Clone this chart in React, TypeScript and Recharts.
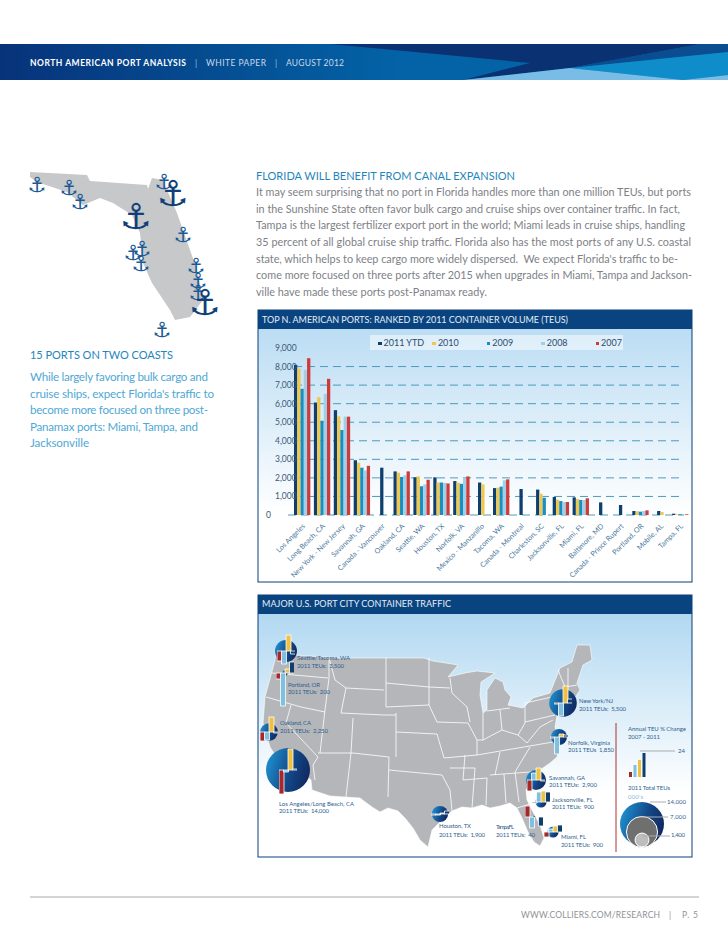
import { Bar, BarChart, CartesianGrid, Cell, Legend, Scatter, ScatterChart, XAxis, YAxis, ZAxis } from "recharts"

const FONT = "Lato, 'Open Sans', sans-serif"

// ─── Top ports bar chart data ────────────────────────────────────────────────

const PORTS = [
  "Los Angeles", "Long Beach, CA", "New York - New Jersey", "Savannah, GA", "Canada - Vancouver",
  "Oakland, CA", "Seattle, WA", "Houston, TX", "Norfolk, VA", "Mexico - Manzanillo",
  "Tacoma, WA", "Canada - Montreal", "Charleston, SC", "Jacksonville, FL", "Miami, FL",
  "Baltimore, MD", "Canada - Prince Rupert", "Portland, OR", "Mobile, AL", "Tampa, FL",
]
const TEU_2011 = [8090, 6060, 5650, 2950, 2550, 2350, 2030, 2030, 1830, 1750, 1450, 1400, 1370, 970, 950, 680, 540, 215, 215, 70]
const TEU_2010 = [7880, 6350, 5320, 2820, null, 2280, 2080, 1750, 1750, 1650, 1470, null, 1150, 830, 860, null, null, 200, 160, 40]
const TEU_2009 = [6800, 5080, 4580, 2550, null, 2050, 1550, 1750, 1680, null, 1530, null, 930, 750, 810, null, null, 180, null, 40]
const TEU_2008 = [7820, 6530, 5300, 2400, null, 2140, 1650, 1730, 2000, null, 1870, null, null, 700, 810, null, null, 215, null, 20]
const TEU_2007 = [8450, 7340, 5300, 2650, null, 2350, 1900, 1700, 2080, null, 1920, null, null, 700, 900, null, null, 250, null, 40]
const Y_TICKS = [0, 1000, 2000, 3000, 4000, 5000, 6000, 7000, 8000, 9000]

const rows = PORTS.map((port, i) => ({
  port,
  y2011: TEU_2011[i],
  y2010: TEU_2010[i],
  y2009: TEU_2009[i],
  y2008: TEU_2008[i],
  y2007: TEU_2007[i],
}))

const SERIES = [
  { key: "y2011", name: "2011 YTD", color: "#0f3f6e" },
  { key: "y2010", name: "2010", color: "#f0c850" },
  { key: "y2009", name: "2009", color: "#1a8fbf" },
  { key: "y2008", name: "2008", color: "#9fd0e8" },
  { key: "y2007", name: "2007", color: "#cf3a3a" },
]

// ─── Port map data ───────────────────────────────────────────────────────────

const CITY_NAMES = ["Seattle", "Portland", "Oakland", "Los Angeles", "Houston", "New York", "Norfolk", "Savannah", "Jacksonville", "Tampa", "Miami"]
const CITY_TEUS = [3500, 200, 2250, 14000, 1900, 5500, 1850, 2900, 900, 40, 900]
const CITY_MAP_X = [28, 27, 11, 30, 182, 305, 301, 278, 283, 276, 295]
const CITY_MAP_Y = [37, 59, 118, 156, 200, 89, 123, 166, 188, 203, 218]
const CHANGE_YEARS = ["2008", "2009", "2010", "2011"]
const CITY_CHANGES = [
  [-10, -13, 16, -3],
  [-6, -33, 4, 11],
  [-9, -8, 15, -1],
  [-24, -2, 21, 1],
  [-1, -1, 1, 3],
  [-1, -13, 17, 4],
  [-1, -17, 3, 2],
  [-11, 7, 12, -1],
  [-1, 10, 11, 10],
  [11, -11, 0, -9],
  [-5, 3, 6, 7],
]
const CHANGE_COLORS = ["#a5282c", "#7fc0e0", "#f0c040", "#0f3f6e"]
const KEY_CHANGES = [5, 12, 17, 24]
const KEY_TOTALS = [14000, 7000, 1400]
const KEY_MAP_Y = [210, 218, 226]

const cities = CITY_NAMES.map((name, i) => ({ name, x: CITY_MAP_X[i], y: CITY_MAP_Y[i], teu: CITY_TEUS[i] }))
const keyBubbles = KEY_TOTALS.map((teu, i) => ({ x: 384, y: KEY_MAP_Y[i], teu }))

// ─── Page furniture ──────────────────────────────────────────────────────────

const BODY = [
  ["It may seem surprising that no port in Florida handles more than one million TEUs, but ports", 691],
  ["in the Sunshine State often favor bulk cargo and cruise ships over container traffic. In fact,", 680],
  ["Tampa is the largest fertilizer export port in the world; Miami leads in cruise ships, handling", 685],
  ["35 percent of all global cruise ship traffic. Florida also has the most ports of any U.S. coastal", 691],
  ["state, which helps to keep cargo more widely dispersed.  We expect Florida's traffic to be-", 678],
  ["come more focused on three ports after 2015 when upgrades in Miami, Tampa and Jackson-", 692],
  ["ville have made these ports post-Panamax ready.", 487],
] as const

const SIDE = [
  ["While largely favoring bulk cargo and", 208],
  ["cruise ships, expect Florida's traffic to", 214],
  ["become more focused on three post-", 208],
  ["Panamax ports: Miami, Tampa, and", 198],
  ["Jacksonville", 89],
] as const

const MAP_LABELS = [
  ["Seattle/Tacoma, WA", 297, 659.5, 350],
  ["2011 TEUs:  3,500", 297, 667.7, 344],
  ["Portland, OR", 288, 686.7, 320],
  ["2011 TEUs:  200", 288, 693.5, 330],
  ["Oakland, CA", 280, 725, 311],
  ["2011 TEUs:  2,250", 280, 732.5, 328],
  ["Los Angeles/Long Beach, CA", 279, 805.7, 354],
  ["2011 TEUs:  14,000", 279, 812.7, 329],
  ["Houston, TX", 439, 828, 471],
  ["2011 TEUs:  1,900", 439, 836.7, 485],
  ["New York/NJ", 579, 702.7, 613],
  ["2011 TEUs:  5,500", 579, 710.7, 626],
  ["Norfolk, Virginia", 568, 744.7, 610],
  ["2011 TEUs  1,850", 568, 751.5, 614],
  ["Savannah, GA", 549, 779.7, 585],
  ["2011 TEUs:  2,900", 549, 787, 597],
  ["Jacksonville, FL", 552, 801.7, 593],
  ["2011 TEUs:  900", 552, 808.5, 594],
  ["Tampa, FL", 496, 828.7, 514],
  ["2011 TEUs:  40", 496, 837, 535],
  ["Miami, FL", 561, 839, 586],
  ["2011 TEUs:  900", 561, 847, 603],
  ["Annual TEU % Change", 628, 730.7, 686],
  ["2007 - 2011", 628, 738.5, 660],
  ["24", 678, 752.7, 685],
  ["2011 Total TEUs", 628, 790, 670],
  ["14,000", 667, 803.7, 686],
  ["7,000", 670, 818.7, 686],
  ["1,400", 671, 837, 685],
] as const

const ANCHORS = [
  [37, 184, 21], [69, 187, 21], [80, 201, 21], [164, 181, 21], [173, 193, 36], [136, 216, 36], [183, 234, 21], [133, 252, 21],
  [142, 248, 21], [141, 263, 21], [196, 265, 21], [198, 280, 21], [198, 292, 21], [205, 302, 36], [162, 329, 21],
]

const US_OUTLINE = "M276 652 L295 655 L339 658 L424 658 L433 661 L446 663 L458 665 L448 677 L465 673 L477 671 L495 673 L481 682 L480 695 L483 713 L487 710 L487 690 L495 678 L503 682 L505 690 L511 697 L508 705 L523 708 L533 698 L550 693 L560 668 L572 662 L577 645 L590 645 L592 660 L583 665 L577 683 L580 690 L572 702 L557 715 L555 727 L560 743 L557 757 L550 763 L540 770 L532 780 L526 790 L527 800 L533 812 L540 825 L544 838 L540 846 L534 842 L528 832 L522 818 L517 808 L510 803 L500 806 L490 808 L482 805 L472 808 L462 807 L452 811 L442 820 L432 830 L428 847 L420 840 L413 828 L405 818 L398 811 L388 808 L380 812 L372 807 L360 798 L345 797 L330 796 L312 790 L311 780 L298 768 L280 763 L270 747 L263 723 L265 697 L271 675 L275 660 Z"

const STATE_LINES = [
  "M272 673 L328 678", "M266 697 L301 707 L325 712", "M329 658 L329 678 L325 710 L320 753", "M291 705 L286 723 L318 757 L313 765 L315 780",
  "M318 753 L353 753 L389 757", "M329 658 L335 680 L346 688 L384 690", "M346 688 L341 713 L384 715 L396 715", "M386 658 L386 707",
  "M386 683 L429 687", "M386 707 L429 705 L437 722", "M396 713 L396 757", "M396 732 L437 734 L444 758", "M353 718 L351 753 L346 797",
  "M389 757 L388 797", "M389 770 L442 775 L450 790 L452 811", "M429 658 L429 705", "M429 687 L450 688", "M437 722 L468 723",
  "M444 758 L477 755", "M450 768 L475 768 L472 808", "M468 723 L477 740 L483 740", "M450 678 L452 693 L467 707 L470 722",
  "M483 713 L483 740 L502 730 L518 735 L525 723 L525 703", "M487 711 L510 708", "M500 710 L502 730", "M477 740 L477 755",
  "M525 722 L555 715", "M525 703 L552 697", "M558 670 L565 687", "M568 668 L568 687", "M565 687 L577 685",
  "M518 735 L527 743 L540 727 L553 720", "M477 755 L553 742", "M490 775 L530 772 L540 770", "M465 755 L463 780 L487 778 L486 805",
  "M504 774 L506 803", "M515 772 L519 802", "M517 808 L530 804", "M500 752 L495 775", "M530 747 L515 772",
]

// ─── Bits ────────────────────────────────────────────────────────────────────

// the source chart centres each group on the bars it actually has
function CenteredBar(props: any) {
  const { x, y, width, height, fill, payload } = props
  if (height == null || height <= 0) return null
  const present = SERIES.filter((s) => payload[s.key] != null).length
  return <rect x={x + ((5 - present) / 2) * width} y={y} width={width} height={height} fill={fill} />
}

function GridLine(props: any) {
  if (props.y1 < 20) return <g />
  // the dashes stop short of the tick labels, only the baseline runs under them
  const x1 = props.y1 > 180 ? props.x1 : props.x1 + 6
  return <line x1={x1} x2={426} y1={props.y1} y2={props.y2} stroke="#4a9cbd" strokeWidth={1} strokeDasharray="8 5" />
}

function ChartLegend({ payload }: any) {
  return (
    <div style={{ position: "relative", width: 253, height: 15, background: "rgba(255,255,255,0.5)", fontFamily: FONT, fontSize: 9, color: "#2b4d6e" }}>
      {(payload ?? []).map((entry: any, i: number) => (
        <span key={entry.value} style={{ position: "absolute", left: 8 + i * 54.4, top: 1, whiteSpace: "nowrap", lineHeight: "13px" }}>
          <span style={{ display: "inline-block", width: 3.5, height: 3.5, background: entry.color, marginRight: 2, verticalAlign: 1 }} />
          {entry.value}
        </span>
      ))}
    </div>
  )
}

function TopPortsChart() {
  return (
    <div style={{ position: "absolute", left: 258, top: 330 }}>
      <BarChart width={434} height={252} data={rows} margin={{ top: 18, right: 2, bottom: 0, left: 0 }} barGap={0}>
        <CartesianGrid vertical={false} horizontal={GridLine as any} />
        <XAxis
          dataKey="port"
          interval={0}
          height={67}
          padding={{ left: 4, right: 0 }}
          axisLine={false}
          tickLine={false}
          angle={-45}
          textAnchor="end"
          tick={{ fontSize: 7.2, fill: "#4a789c", fontFamily: FONT }}
        />
        <YAxis
          width={30}
          domain={[0, 9000]}
          ticks={Y_TICKS}
          interval={0}
          axisLine={false}
          tickLine={false}
          tick={(p: any) => (
            <text x={p.payload.value === 0 ? 8 : 17} y={p.y + 3} fontSize={8.5} fill="#3a5a78" fontFamily={FONT}>
              {p.payload.value.toLocaleString("en-US")}
            </text>
          )}
        />
        <Legend
          layout="vertical"
          align="center"
          verticalAlign="middle"
          itemSorter={null}
          content={<ChartLegend />}
          wrapperStyle={{ left: 112, top: 5, width: 253, height: 15 }}
        />
        {SERIES.map((s) => (
          <Bar key={s.key} dataKey={s.key} name={s.name} fill={s.color} barSize={3.27} shape={<CenteredBar />} isAnimationActive={false} />
        ))}
      </BarChart>
    </div>
  )
}

function ChangeBars({ values, left, top, outlined = true }: { values: number[]; left: number; top: number; outlined?: boolean }) {
  const data = CHANGE_YEARS.map((year, i) => ({ year, change: values[i] }))
  return (
    <div style={{ position: "absolute", left: left - 9, top: top - 38 }}>
      <BarChart width={18} height={76} data={data} margin={{ top: 0, right: 0, bottom: 0, left: 0 }} barCategoryGap={outlined ? 0 : 1}>
        <XAxis dataKey="year" hide />
        <YAxis hide domain={[-38, 38]} />
        <Bar dataKey="change" stroke={outlined ? "#fff" : "none"} strokeWidth={outlined ? 0.8 : 0} isAnimationActive={false}>
          {data.map((_, i) => (
            <Cell key={i} fill={CHANGE_COLORS[i]} />
          ))}
        </Bar>
      </BarChart>
    </div>
  )
}

function PortBubbles() {
  return (
    <div style={{ position: "absolute", left: 258, top: 614 }}>
      <ScatterChart width={434} height={243} margin={{ top: 0, right: 0, bottom: 0, left: 0 }}>
        <defs>
          <linearGradient id="bubble" x1="0" y1="0.3" x2="1" y2="0.6">
            <stop offset="0" stopColor="#1f90cf" />
            <stop offset="0.55" stopColor="#134a8a" />
            <stop offset="1" stopColor="#10285f" />
          </linearGradient>
        </defs>
        <XAxis type="number" dataKey="x" domain={[0, 434]} hide />
        <YAxis type="number" dataKey="y" domain={[0, 243]} reversed hide width={0} />
        <ZAxis type="number" dataKey="teu" domain={[0, 14000]} range={[0, 1520]} />
        <Scatter data={cities} fill="url(#bubble)" isAnimationActive={false} />
        <Scatter data={keyBubbles} isAnimationActive={false}>
          {keyBubbles.map((_, i) => (
            <Cell key={i} fill={["url(#bubble)", "#6f6f70", "#bdbdbe"][i]} stroke={i ? "#fff" : "none"} />
          ))}
        </Scatter>
      </ScatterChart>
    </div>
  )
}

function Txt({ x, y, end, size, fill, weight, children }: any) {
  return (
    <text x={x} y={y} textLength={end - x} lengthAdjust="spacing" fontSize={size} fill={fill} fontWeight={weight} fontFamily={FONT} xmlSpace="preserve">
      {children}
    </text>
  )
}

function PageArt() {
  return (
    <svg width={728} height={943} style={{ position: "absolute", left: 0, top: 0 }}>
      <defs>
        <linearGradient id="bandLeft" x1="0" x2="1" y1="0" y2="0">
          <stop offset="0" stopColor="#07337a" />
          <stop offset="0.55" stopColor="#0363a6" />
          <stop offset="1" stopColor="#0363a6" />
        </linearGradient>
        <linearGradient id="panelOne" x1="0" x2="0" y1="0" y2="1">
          <stop offset="0" stopColor="#b4d9f2" />
          <stop offset="0.75" stopColor="#ffffff" />
        </linearGradient>
        <linearGradient id="panelTwo" x1="0" x2="0" y1="0" y2="1">
          <stop offset="0" stopColor="#a9d4f0" />
          <stop offset="0.75" stopColor="#ffffff" />
        </linearGradient>
      </defs>

      <rect x={0} y={44} width={728} height={36} fill="url(#bandLeft)" />
      <polygon points="330,44 700,44 570,68 463,80 530,63" fill="#0a3272" />
      <polygon points="700,44 728,44 728,52 570,68" fill="#0a4d90" />
      <polygon points="570,68 728,52 728,75 683,80" fill="#0f8dca" />
      <polygon points="463,80 570,68 683,80" fill="#79bde6" />
      <polygon points="683,80 728,75 728,80" fill="#79bde6" />
      <Txt x={30} y={66} end={186} size={8.5} fill="#ffffff" weight={700}>NORTH AMERICAN PORT ANALYSIS</Txt>
      <Txt x={195} y={66} end={197} size={8.5} fill="#9fbcd8">|</Txt>
      <Txt x={206} y={66} end={266} size={8.5} fill="#c9d9ea">WHITE PAPER</Txt>
      <Txt x={275} y={66} end={277} size={8.5} fill="#9fbcd8">|</Txt>
      <Txt x={286} y={66} end={344} size={8.5} fill="#c9d9ea">AUGUST 2012</Txt>

      <path d="M30 172 L87 175 L90 181 L147 185 L148 189 L152 178 L163 180 L167 190 L177 213 L190 250 L197 270 L203 300 L190 317 L175 320 L170 310 L152 283 L143 263 L140 233 L132 215 L113 203 L100 198 L83 205 L67 192 L37 182 L30 177 Z" fill="#c6c8ca" />
      {ANCHORS.map(([x, y, s], i) => (
        <text key={i} x={x} y={y + s * 0.36} fontSize={s} textAnchor="middle" fill={s > 30 ? "#123f78" : "#1a5a94"} fontFamily="'DejaVu Sans'">⚓</text>
      ))}

      <Txt x={30} y={359} end={173} size={11} fill="#1f86bb">15 PORTS ON TWO COASTS</Txt>
      {SIDE.map(([line, end], i) => (
        <Txt key={i} x={30} y={381 + i * 16.6} end={end} size={11.6} fill="#4fa8d5">{line}</Txt>
      ))}

      <Txt x={256} y={180} end={515} size={11} fill="#1f86bb">FLORIDA WILL BENEFIT FROM CANAL EXPANSION</Txt>
      {BODY.map(([line, end], i) => (
        <Txt key={i} x={256} y={196 + i * 16.67} end={end} size={10.8} fill="#7d8186">{line}</Txt>
      ))}

      <rect x={258} y={310} width={434} height={272} fill="url(#panelOne)" stroke="#0a3f78" />
      <rect x={258} y={310} width={434} height={19} fill="#0a4480" />
      <Txt x={262} y={322.7} end={568} size={9} fill="#e4eef7">TOP N. AMERICAN PORTS: RANKED BY 2011 CONTAINER VOLUME (TEUS)</Txt>

      <rect x={258} y={595} width={434} height={262} fill="url(#panelTwo)" stroke="#0a3f78" />
      <rect x={258} y={595} width={434} height={19} fill="#0a4480" />
      <Txt x={262} y={606.7} end={451} size={9} fill="#e4eef7">MAJOR U.S. PORT CITY CONTAINER TRAFFIC</Txt>
      <path d={US_OUTLINE} fill="#b4b6b9" stroke="#fff" strokeWidth={0.6} strokeLinejoin="round" />
      {STATE_LINES.map((d, i) => (
        <path key={i} d={d} fill="none" stroke="#fff" strokeWidth={0.8} />
      ))}
      <line x1={616} x2={616} y1={723} y2={852} stroke="#a83232" />

      <line x1={30} x2={699} y1={897} y2={897} stroke="#a9abad" />
      <Txt x={521} y={918} end={660} size={8.5} fill="#8f9296">WWW.COLLIERS.COM/RESEARCH</Txt>
      <Txt x={669} y={918} end={671} size={8.5} fill="#8f9296">|</Txt>
      <Txt x={682} y={918} end={698} size={8.5} fill="#8f9296">P. 5</Txt>
    </svg>
  )
}

function MapOverlay() {
  return (
    <svg width={728} height={943} style={{ position: "absolute", left: 0, top: 0, pointerEvents: "none" }}>
      {MAP_LABELS.map(([label, x, y, end], i) => (
        <Txt key={i} x={x} y={y} end={end} size={6} fill="#2f5f8f">{label}</Txt>
      ))}
      <Txt x={628} y={799} end={643} size={6} fill="#8fb6d4">000's</Txt>
      <line x1={640} x2={675} y1={751} y2={751} stroke="#a9abad" />
      <line x1={650} x2={666} y1={802} y2={802} stroke="#a9abad" />
      <line x1={640} x2={668} y1={817} y2={817} stroke="#a9abad" />
      <line x1={643} x2={670} y1={836} y2={836} stroke="#a9abad" />
    </svg>
  )
}

export default function App() {
  return (
    <div style={{ position: "absolute", left: 0, top: 0, width: 728, height: 943, overflow: "hidden", background: "#fff" }}>
      <PageArt />
      <TopPortsChart />
      <PortBubbles />
      {CITY_CHANGES.map((values, i) => (
        <ChangeBars key={CITY_NAMES[i]} values={values} left={258 + CITY_MAP_X[i]} top={614 + CITY_MAP_Y[i]} />
      ))}
      <ChangeBars values={KEY_CHANGES} left={637} top={777} outlined={false} />
      <MapOverlay />
    </div>
  )
}
